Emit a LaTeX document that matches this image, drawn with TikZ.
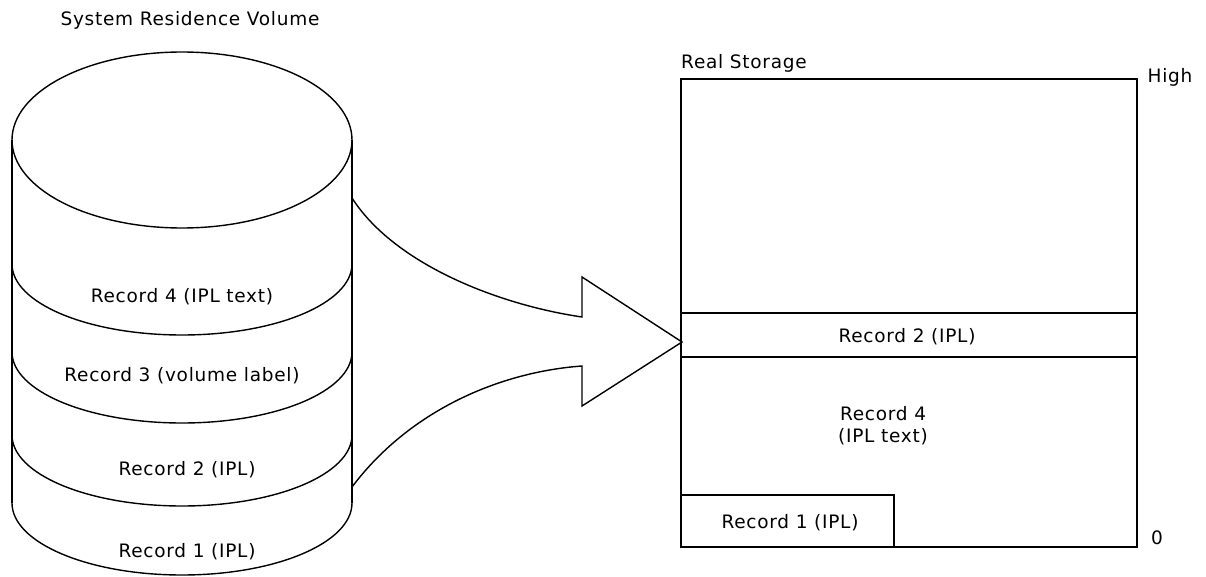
\documentclass[tikz,border=0pt]{standalone}
\usepackage{fontspec}
\setmainfont{DejaVu Sans}[LetterSpace=4]
\begin{document}
\begin{tikzpicture}[x=1pt,y=-1pt,line width=1.4pt,
  lbl/.style={inner sep=0pt,font=\fontsize{18.5}{22}\selectfont,align=center}]
\useasboundingbox (0,0) rectangle (1206,577);

% disk volume: top face, sides, record boundaries
\draw (182,140) ellipse [x radius=170, y radius=88];
\draw (12,140) -- (12,503);
\draw (352,140) -- (352,503);
\foreach \c/\r in {264/71,352/71,435/71,503/72}
  \draw (12,\c) .. controls (12,\c+0.552*\r) and (88,\c+\r) .. (182,\c+\r)
        .. controls (276,\c+\r) and (352,\c+0.552*\r) .. (352,\c);

\node[lbl] (title) at (190,20) {System Residence Volume};
\node[lbl] (r4d) at (182,297) {Record 4 (IPL text)};
\node[lbl] (r3d) at (182,376) {Record 3 (volume label)};
\node[lbl] (r2d) at (187,470) {Record 2 (IPL)};
\node[lbl] (r1d) at (187,552) {Record 1 (IPL)};

% real storage map
\coordinate (stTL) at (681,79);
\coordinate (stBR) at (1137,547);
\draw (stTL) rectangle (stBR);
\draw (681,313) -- (1137,313);
\draw (681,357) -- (1137,357);
\draw (681,495) rectangle (894,547);

\node[lbl] (rs) at (744,63) {Real Storage};
\node[lbl] (high) at (1170,77) {High};
\node[lbl] (zero) at (1157,538) {0};
\node[lbl] (r2s) at (907,337) {Record 2 (IPL)};
\node[lbl] (r4s) at (883,426) {Record 4\\(IPL text)};
\node[lbl] (r1s) at (790,523) {Record 1 (IPL)};

% load arrow from the volume into storage
\coordinate (tip) at (682,342);
\draw (352,198) .. controls (395,265) and (500,305) .. (582,317)
  -- (582,277) -- (tip) -- (582,406) -- (582,366)
  .. controls (500,372) and (410,410) .. (352,487);
\end{tikzpicture}
\end{document}
